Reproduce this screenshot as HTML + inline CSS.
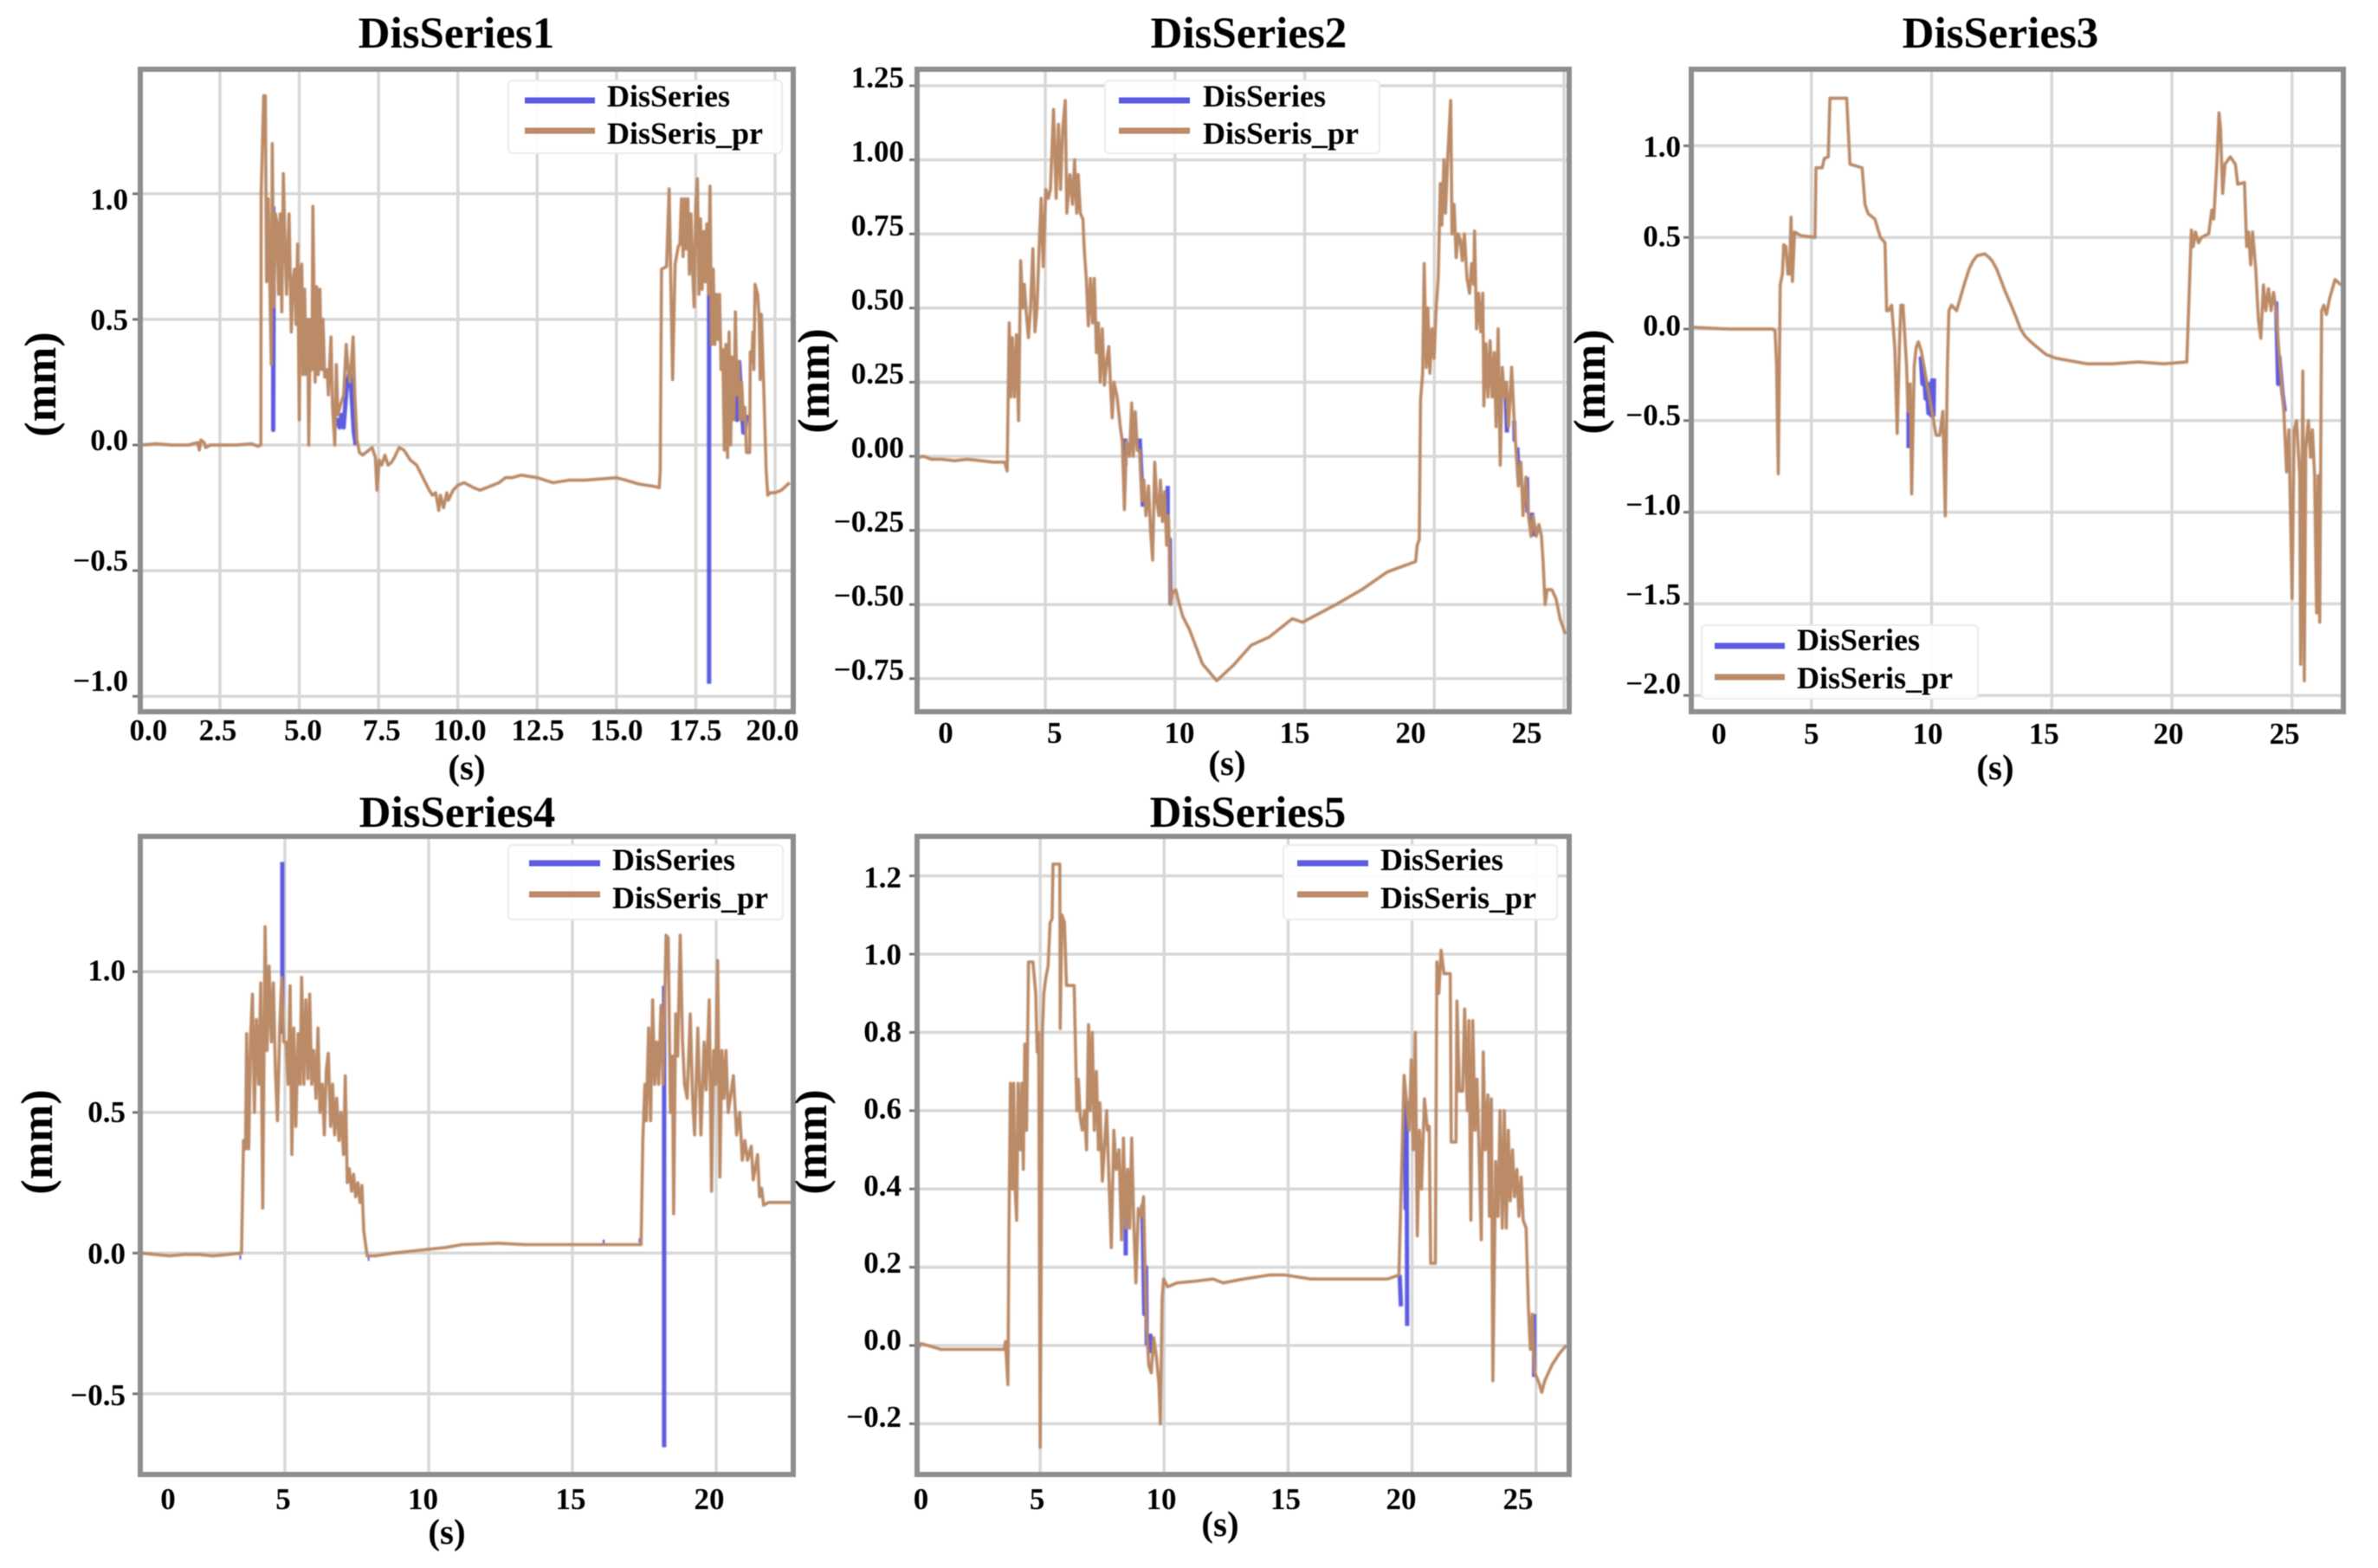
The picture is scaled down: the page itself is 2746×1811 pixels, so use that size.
<!DOCTYPE html>
<html lang="en">
<head>
<meta charset="utf-8">
<title>DisSeries charts</title>
<style>
  html, body { margin: 0; padding: 0; background: #fff; }
  svg { display: block; font-family: "Liberation Serif", "Times New Roman", serif; font-weight: bold; fill: #000; filter: blur(0.5px); }
  .title { font-size: 51px; text-anchor: middle; }
  .axis-title { font-size: 52px; text-anchor: middle; }
  .s-title { font-size: 41px; text-anchor: middle; }
  .legend-text { font-size: 36px; }
  .legend-box { fill: #fff; fill-opacity: .92; stroke: #ececec; stroke-width: 2; }
  .legend-blue { stroke: #5d5be0; stroke-width: 7; }
  .legend-brown { stroke: #bb8a66; stroke-width: 7; }
  .frame { fill: none; stroke: #8e8e8e; stroke-width: 6; }
</style>
</head>
<body>
<svg id="chart" xmlns="http://www.w3.org/2000/svg" width="2746" height="1811" viewBox="0 0 2746 1811">
  <rect width="2746" height="1811" fill="#fff"/>

  <g id="panel1"></g>
  <g id="panel2"></g>
  <g id="panel3"></g>
  <g id="panel4"></g>
  <g id="panel5"></g>

  <!-- Titles -->
  <text class="title" x="527" y="55">DisSeries1</text>
  <text class="title" x="1442" y="55">DisSeries2</text>
  <text class="title" x="2310" y="55">DisSeries3</text>
  <text class="title" x="528" y="955">DisSeries4</text>
  <text class="title" x="1441" y="955">DisSeries5</text>

  <!-- Y axis titles -->
  <text class="axis-title" transform="translate(64,444) rotate(-90)">(mm)</text>
  <text class="axis-title" transform="translate(957,440) rotate(-90)">(mm)</text>
  <text class="axis-title" transform="translate(1853,441) rotate(-90)">(mm)</text>
  <text class="axis-title" transform="translate(60,1319) rotate(-90)">(mm)</text>
  <text class="axis-title" transform="translate(954,1319) rotate(-90)">(mm)</text>

  <!-- X axis titles -->
  <text class="s-title" x="539" y="900">(s)</text>
  <text class="s-title" x="1417" y="895">(s)</text>
  <text class="s-title" x="2304" y="900">(s)</text>
  <text class="s-title" x="516" y="1783">(s)</text>
  <text class="s-title" x="1409" y="1774">(s)</text>

  <!-- Legends -->
  <g>
    <rect class="legend-box" x="587" y="93" width="316" height="84" rx="5"/>
    <line class="legend-blue" x1="606" y1="116" x2="687" y2="116"/>
    <line class="legend-brown" x1="606" y1="151" x2="687" y2="151"/>
    <text class="legend-text" x="701" y="123">DisSeries</text>
    <text class="legend-text" x="701" y="166">DisSeris_pr</text>
  </g>
  <g>
    <rect class="legend-box" x="1276" y="93" width="317" height="84" rx="5"/>
    <line class="legend-blue" x1="1292" y1="116" x2="1374" y2="116"/>
    <line class="legend-brown" x1="1292" y1="151" x2="1374" y2="151"/>
    <text class="legend-text" x="1389" y="123">DisSeries</text>
    <text class="legend-text" x="1389" y="166">DisSeris_pr</text>
  </g>
  <g>
    <rect class="legend-box" x="1965" y="722" width="319" height="85" rx="5"/>
    <line class="legend-blue" x1="1980" y1="746" x2="2061" y2="746"/>
    <line class="legend-brown" x1="1980" y1="782" x2="2061" y2="782"/>
    <text class="legend-text" x="2075" y="751">DisSeries</text>
    <text class="legend-text" x="2075" y="795">DisSeris_pr</text>
  </g>
  <g>
    <rect class="legend-box" x="587" y="976" width="317" height="86" rx="5"/>
    <line class="legend-blue" x1="611" y1="997" x2="693" y2="997"/>
    <line class="legend-brown" x1="611" y1="1033" x2="693" y2="1033"/>
    <text class="legend-text" x="707" y="1005">DisSeries</text>
    <text class="legend-text" x="707" y="1049">DisSeris_pr</text>
  </g>
  <g>
    <rect class="legend-box" x="1482" y="976" width="316" height="86" rx="5"/>
    <line class="legend-blue" x1="1498" y1="997" x2="1580" y2="997"/>
    <line class="legend-brown" x1="1498" y1="1033" x2="1580" y2="1033"/>
    <text class="legend-text" x="1594" y="1005">DisSeries</text>
    <text class="legend-text" x="1594" y="1049">DisSeris_pr</text>
  </g>
</svg>

<script>
/* ---------- Chart 1 data ---------- */
const chart1XTicks = [0, 2.5, 5, 7.5, 10, 12.5, 15, 17.5, 20];
const chart1XLabels = ["0.0", "2.5", "5.0", "7.5", "10.0", "12.5", "15.0", "17.5", "20.0"];
const chart1YTicks = [1, 0.5, 0, -0.5, -1];
const chart1YLabels = ["1.0", "0.5", "0.0", "\u22120.5", "\u22121.0"];
const chart1PredT = [0,0.5,1,1.5,1.8,1.85,1.9,2,2.05,2.2,3,3.5,3.7,3.79,3.8,3.88,3.93,3.97,4.02,4.07,4.12,4.15,4.2,4.25,4.3,4.35,4.4,4.45,4.5,4.55,4.6,4.68,4.75,4.8,4.85,4.9,4.95,5,5.04,5.08,5.12,5.17,5.22,5.27,5.3,5.35,5.4,5.43,5.5,5.55,5.6,5.65,5.7,5.75,5.8,5.88,5.92,5.96,6,6.05,6.12,6.17,6.22,6.3,6.4,6.48,6.54,6.6,6.7,6.75,6.82,6.9,7,7.1,7.2,7.3,7.4,7.45,7.52,7.6,7.7,7.8,7.9,8,8.15,8.3,8.5,8.7,8.9,9.1,9.2,9.3,9.4,9.45,9.55,9.65,9.7,9.85,10,10.2,10.5,10.7,10.9,11.1,11.3,11.5,11.7,12,12.5,13,13.5,14,14.5,15,15.3,15.7,16.2,16.35,16.38,16.42,16.58,16.66,16.72,16.77,16.85,16.95,17,17.05,17.1,17.15,17.2,17.25,17.3,17.35,17.4,17.45,17.5,17.55,17.6,17.65,17.7,17.75,17.8,17.85,17.9,17.95,18,18.05,18.1,18.15,18.2,18.25,18.3,18.35,18.4,18.45,18.5,18.55,18.6,18.65,18.7,18.75,18.8,18.85,18.9,18.95,19,19.05,19.1,19.2,19.22,19.27,19.3,19.33,19.37,19.45,19.5,19.53,19.57,19.65,19.72,19.77,19.85,20,20.2,20.46];
const chart1PredV = [0,0.005,0,0,0.01,-0.02,0.02,0.01,-0.01,0,0,0.005,-0.005,0,1,1.39,1.39,0.65,0.98,0.66,0.32,1.2,0.55,0.92,0.88,0.6,0.92,0.53,1.08,0.8,0.6,0.92,0.45,0.65,0.7,0.48,0.8,0.1,0.7,0.72,0.28,0.62,0.28,0.5,0,0.5,0.3,0.95,0.25,0.63,0.28,0.62,0.3,0.5,0.27,0.3,0.2,0.32,0.43,0.15,0,0.32,0.12,0.16,0.2,0.4,0.3,0.25,0.43,0.2,0.02,-0.03,-0.04,-0.03,-0.02,-0.01,-0.05,-0.18,-0.06,-0.08,-0.04,-0.08,-0.07,-0.05,-0.01,-0.02,-0.06,-0.08,-0.13,-0.18,-0.2,-0.19,-0.26,-0.2,-0.25,-0.19,-0.22,-0.18,-0.16,-0.15,-0.17,-0.18,-0.17,-0.16,-0.15,-0.13,-0.13,-0.12,-0.13,-0.15,-0.14,-0.14,-0.135,-0.13,-0.14,-0.155,-0.165,-0.17,-0.1,0.7,0.71,1.02,0.6,0.26,0.72,0.79,0.8,0.98,0.75,0.98,0.78,0.98,0.68,0.92,0.7,0.55,0.95,1.06,0.6,0.9,0.62,0.85,0.65,0.88,0.6,1.03,0.4,0.7,0.4,0.6,0.42,0.6,0.3,0.38,-0.02,0.4,-0.05,0.45,0,0.35,0.1,0.53,0.2,0.33,0.1,0.25,0.1,0.15,-0.03,-0.03,0.37,0.33,0.45,0.3,0.64,0.6,0.5,0.26,0.52,0.2,-0.1,-0.2,-0.19,-0.19,-0.18,-0.15];
const chart1ActualT = [4.18,4.18,4.2,null,6.12,6.2,6.27,6.33,6.4,6.5,6.6,6.72,6.78,null,17.92,17.92,null,18.76,18.8,18.87,18.95,19,19.05,19.1];
const chart1ActualV = [0.95,0.06,0.9,null,0.08,0.1,0.07,0.12,0.07,0.24,0.3,0.05,0,null,0.6,-0.95,null,0.17,0.1,0.33,0.15,0.05,0.05,0.12];

/* ---------- Chart 2 data ---------- */
const chart2XTicks = [0, 5, 10, 15, 20, 25];
const chart2XLabels = ["0", "5", "10", "15", "20", "25"];
const chart2YTicks = [1.25, 1, 0.75, 0.5, 0.25, 0, -0.25, -0.5, -0.75];
const chart2YLabels = ["1.25", "1.00", "0.75", "0.50", "0.25", "0.00", "\u22120.25", "\u22120.50", "\u22120.75"];
const chart2PredT = [0.05,0.3,0.6,1,1.5,2,2.5,3,3.44,3.53,3.61,3.67,3.73,3.81,3.89,3.97,4.05,4.13,4.19,4.27,4.35,4.43,4.52,4.6,4.68,4.76,4.84,4.92,5.02,5.12,5.2,5.32,5.42,5.51,5.59,5.67,5.77,5.83,5.95,6.05,6.13,6.21,6.27,6.35,6.45,6.5,6.58,6.66,6.74,6.82,6.89,6.97,7.05,7.12,7.2,7.28,7.38,7.45,7.51,7.58,7.65,7.77,7.89,7.97,8.05,8.13,8.25,8.33,8.39,8.47,8.55,8.64,8.72,8.8,8.88,8.98,9.06,9.14,9.22,9.3,9.38,9.44,9.52,9.6,9.68,9.75,9.83,9.91,10.03,10.17,10.3,10.56,11.06,11.61,12.25,12.94,13.63,14.52,14.92,16.21,17.2,18.19,19.28,19.34,19.42,19.47,19.55,19.61,19.69,19.75,19.83,19.91,19.99,20.07,20.15,20.23,20.29,20.37,20.43,20.51,20.63,20.68,20.76,20.84,20.92,21,21.08,21.16,21.26,21.36,21.44,21.52,21.55,21.63,21.71,21.79,21.87,21.91,21.99,22.07,22.15,22.23,22.31,22.38,22.46,22.54,22.62,22.7,22.78,22.86,22.98,23.08,23.16,23.24,23.34,23.42,23.53,23.63,23.73,23.81,23.93,24.03,24.13,24.19,24.27,24.35,24.53,24.69,24.85,25.06];
const chart2PredV = [-0.005,0,-0.01,-0.01,-0.015,-0.01,-0.015,-0.02,-0.02,-0.05,0.45,0.2,0.4,0.2,0.41,0.12,0.66,0.5,0.58,0.48,0.4,0.5,0.7,0.42,0.5,0.7,0.87,0.64,0.9,0.87,0.9,1.17,0.87,1.12,0.9,1.1,1.2,0.82,0.95,0.85,1,0.82,0.95,0.82,0.8,0.7,0.6,0.44,0.6,0.45,0.6,0.35,0.45,0.25,0.43,0.24,0.33,0.37,0.25,0.13,0.25,0.2,0.1,0.05,-0.18,0.05,0,0.18,0,0.15,0.02,0.02,-0.15,-0.08,-0.2,-0.1,-0.25,-0.35,-0.02,-0.15,-0.2,-0.08,-0.22,-0.12,-0.3,-0.2,-0.5,-0.46,-0.45,-0.5,-0.54,-0.585,-0.7,-0.757,-0.705,-0.637,-0.61,-0.548,-0.56,-0.5,-0.45,-0.39,-0.355,-0.3,-0.28,0.19,0.28,0.65,0.3,0.5,0.28,0.43,0.33,0.5,0.6,0.92,0.78,1,0.82,1,1.2,0.75,0.85,0.67,0.75,0.73,0.66,0.75,0.6,0.55,0.65,0.58,0.76,0.43,0.55,0.42,0.55,0.17,0.38,0.2,0.39,0.2,0.35,0.1,0.43,-0.03,0.3,0.2,0.25,0.1,0.3,0.12,0.01,-0.1,-0.02,-0.2,-0.07,-0.2,-0.27,-0.2,-0.27,-0.23,-0.27,-0.35,-0.5,-0.45,-0.45,-0.48,-0.55,-0.6];
const chart2ActualT = [8.09,8.09,null,8.64,8.72,8.76,null,9.72,9.72,9.8,9.83,null,22.74,22.8,null,23.08,23.1,null,23.2,23.24,null,23.57,23.6,null,23.77,23.8];
const chart2ActualV = [0.06,-0.03,null,0.06,-0.09,-0.17,null,-0.1,-0.28,-0.28,-0.5,null,0.25,0.08,null,0.12,0.05,null,0.03,-0.06,null,-0.07,-0.19,null,-0.19,-0.27];

/* ---------- Chart 3 data ---------- */
const chart3XTicks = [0, 5, 10, 15, 20, 25];
const chart3XLabels = ["0", "5", "10", "15", "20", "25"];
const chart3YTicks = [1, 0.5, 0, -0.5, -1, -1.5, -2];
const chart3YLabels = ["1.0", "0.5", "0.0", "\u22120.5", "\u22121.0", "\u22121.5", "\u22122.0"];
const chart3PredT = [0.02,1.57,3.38,3.49,3.55,3.62,3.7,3.79,3.85,3.94,4.02,4.09,4.15,4.21,4.3,4.55,5.15,5.19,5.45,5.53,5.7,5.77,6.47,6.6,7.11,7.23,7.36,7.64,7.87,8.06,8.13,8.21,8.34,8.47,8.57,8.66,8.72,8.81,8.96,9.02,9.11,9.17,9.28,9.36,9.45,9.57,10.04,10.19,10.34,10.47,10.57,10.66,10.72,10.83,11.04,11.26,11.42,11.57,11.72,11.89,12.05,12.21,12.4,12.53,12.7,12.85,13.05,13.28,13.5,13.7,13.9,14.13,14.4,14.77,15.2,15.62,16.47,17.53,18.6,19.66,20.62,20.72,20.81,20.89,20.98,21.11,21.23,21.53,21.66,21.74,21.87,21.96,22.02,22.11,22.21,22.43,22.64,22.74,23.02,23.11,23.19,23.28,23.36,23.49,23.6,23.7,23.81,23.91,24.02,24.13,24.23,24.34,24.47,24.66,24.77,24.87,25,25.09,25.19,25.32,25.36,25.45,25.51,25.57,25.68,25.77,25.85,25.94,26.02,26.09,26.15,26.23,26.32,26.43,26.57,26.79,27.04];
const chart3PredV = [0.01,0,0,-0.01,-0.2,-0.79,0.24,0.3,0.46,0.45,0.3,0.3,0.61,0.26,0.53,0.51,0.5,0.88,0.88,0.93,0.94,1.26,1.26,0.9,0.88,0.68,0.63,0.6,0.5,0.47,0.1,0.1,0.13,-0.1,-0.57,-0.1,0.13,0.13,-0.2,-0.45,-0.3,-0.9,-0.2,-0.1,-0.07,-0.12,-0.47,-0.58,-0.58,-0.45,-1.02,-0.2,0.1,0.13,0.1,0.2,0.27,0.33,0.37,0.4,0.405,0.41,0.39,0.37,0.33,0.28,0.21,0.14,0.07,0,-0.04,-0.07,-0.1,-0.14,-0.16,-0.17,-0.19,-0.19,-0.18,-0.19,-0.18,0.2,0.54,0.45,0.53,0.47,0.5,0.52,0.65,0.6,0.9,1.18,1.1,0.74,0.9,0.94,0.9,0.79,0.8,0.45,0.53,0.35,0.53,0.33,0.05,-0.05,0.24,0.1,0.22,0.1,0.2,0.1,-0.15,-0.45,-0.78,-0.55,-1.47,-0.55,-0.5,-0.8,-1.83,-0.23,-1.92,-0.65,-0.5,-0.7,-0.55,-0.8,-1.55,-0.8,-1.6,0.1,0.13,0.08,0.17,0.27,0.24];
const chart3ActualT = [9.04,9.04,null,9.55,9.62,9.68,9.75,9.8,9.87,9.92,9.98,10.03,10.08,10.1,null,24.34,24.42,24.47,24.6,24.7];
const chart3ActualV = [-0.35,-0.65,null,-0.15,-0.3,-0.22,-0.38,-0.3,-0.46,-0.3,-0.47,-0.28,-0.47,-0.27,null,0.15,-0.3,-0.15,-0.35,-0.45];

/* ---------- Chart 4 data ---------- */
const chart4XTicks = [0, 5, 10, 15, 20];
const chart4XLabels = ["0", "5", "10", "15", "20"];
const chart4YTicks = [1, 0.5, 0, -0.5];
const chart4YLabels = ["1.0", "0.5", "0.0", "\u22120.5"];
const chart4PredT = [0,0.5,1,1.5,2,2.5,3,3.49,3.56,3.63,3.67,3.74,3.81,3.87,3.94,4.01,4.09,4.16,4.23,4.31,4.38,4.45,4.53,4.6,4.67,4.74,4.82,4.89,4.96,5.04,5.11,5.18,5.24,5.31,5.38,5.46,5.53,5.58,5.66,5.73,5.8,5.86,5.93,6,6.08,6.15,6.22,6.3,6.37,6.44,6.51,6.59,6.66,6.73,6.8,6.88,6.95,7.04,7.1,7.17,7.24,7.32,7.39,7.46,7.54,7.61,7.68,7.74,7.86,7.92,8.14,8.78,9.69,10.6,11.15,12.43,13.34,14.25,15.16,16.08,16.99,17.39,17.45,17.52,17.57,17.65,17.72,17.79,17.86,17.93,18,18.08,18.15,18.26,18.33,18.41,18.48,18.52,18.59,18.66,18.75,18.83,18.9,18.99,19.1,19.18,19.25,19.36,19.47,19.58,19.65,19.76,19.84,19.91,19.98,20.05,20.13,20.2,20.27,20.34,20.42,20.49,20.6,20.71,20.82,20.91,21,21.09,21.22,21.29,21.36,21.44,21.51,21.58,21.65,21.82,22.09,22.64];
const chart4PredV = [0,-0.005,-0.01,-0.005,-0.005,-0.01,-0.005,0,0.4,0.37,0.78,0.37,0.78,0.92,0.5,0.83,0.6,0.96,0.16,1.16,0.72,1.02,0.75,0.96,0.65,0.47,0.8,0.98,0.75,0.75,0.6,0.95,0.35,0.8,0.45,0.78,0.6,0.98,0.6,0.9,0.62,0.92,0.6,0.72,0.55,0.8,0.5,0.6,0.42,0.65,0.71,0.45,0.6,0.42,0.55,0.4,0.5,0.35,0.63,0.25,0.3,0.22,0.28,0.2,0.25,0.18,0.24,0.08,-0.01,-0.01,-0.01,0,0.01,0.02,0.03,0.035,0.03,0.03,0.03,0.03,0.03,0.03,0.4,0.6,0.47,0.8,0.47,0.9,0.6,0.75,0.6,0.88,0.6,1.13,1.12,0.5,0.7,0.14,0.85,0.7,1.13,0.75,0.6,0.55,0.85,0.55,0.42,0.8,0.42,0.75,0.58,0.9,0.22,0.72,0.6,1.04,0.27,0.72,0.55,0.72,0.5,0.55,0.63,0.42,0.5,0.33,0.4,0.33,0.38,0.26,0.3,0.35,0.2,0.23,0.17,0.18,0.18,0.18];
const chart4ActualT = [4.91,4.91,null,3.42,3.48,null,7.88,7.94,null,16.05,16.12,null,17.3,17.36,null,18.19,18.19];
const chart4ActualV = [1.39,0.78,null,-0.015,-0.015,null,-0.02,-0.02,null,0.04,0.04,null,0.045,0.045,null,0.95,-0.69];

/* ---------- Chart 5 data ---------- */
const chart5XTicks = [0, 5, 10, 15, 20, 25];
const chart5XLabels = ["0", "5", "10", "15", "20", "25"];
const chart5YTicks = [1.2, 1, 0.8, 0.6, 0.4, 0.2, 0, -0.2];
const chart5YLabels = ["1.2", "1.0", "0.8", "0.6", "0.4", "0.2", "0.0", "\u22120.2"];
const chart5PredT = [0.03,0.2,1,2,3,3.55,3.6,3.7,3.74,3.8,3.87,3.93,3.99,4.05,4.11,4.2,4.26,4.32,4.38,4.45,4.53,4.71,4.82,4.88,4.94,5,5.09,5.15,5.23,5.32,5.4,5.48,5.52,5.79,5.81,5.88,5.98,6.06,6.37,6.48,6.54,6.62,6.7,6.79,6.87,6.95,7.02,7.1,7.18,7.27,7.35,7.41,7.51,7.68,7.78,7.87,7.97,8.07,8.18,8.28,8.36,8.45,8.53,8.61,8.69,8.78,8.86,8.96,9.07,9.17,9.27,9.38,9.48,9.58,9.69,9.79,9.85,9.92,9.98,10.14,10.52,11.35,11.97,12.38,13.21,14.25,14.87,15.91,16.94,17.98,19.02,19.47,19.68,19.88,19.97,20.05,20.13,20.21,20.3,20.38,20.5,20.62,20.69,20.75,20.94,21,21.08,21.17,21.29,21.54,21.58,21.77,21.81,21.91,22.04,22.12,22.23,22.29,22.37,22.45,22.54,22.62,22.7,22.79,22.87,22.95,23.06,23.12,23.2,23.26,23.37,23.47,23.55,23.64,23.72,23.8,23.88,23.96,24.05,24.13,24.23,24.31,24.4,24.48,24.6,24.69,24.77,24.85,24.94,25.02,25.14,25.23,25.35,25.64,25.95,26.22];
const chart5PredV = [-0.01,0.005,-0.01,-0.01,-0.01,-0.01,0.01,-0.1,0.3,0.67,0.4,0.67,0.4,0.32,0.67,0.5,0.67,0.45,0.77,0.55,0.98,0.98,0.9,0.75,0.8,-0.26,0.8,0.9,0.94,0.97,1.08,1.09,1.23,1.23,0.81,1.1,1.08,0.92,0.92,0.6,0.68,0.58,0.55,0.6,0.5,0.82,0.6,0.8,0.55,0.7,0.5,0.62,0.42,0.6,0.42,0.25,0.55,0.45,0.5,0.27,0.53,0.3,0.45,0.3,0.53,0.3,0.16,0.35,0.33,0.38,0.08,-0.05,-0.07,0.02,-0.03,-0.1,-0.2,0.12,0.17,0.15,0.16,0.165,0.17,0.16,0.17,0.18,0.18,0.17,0.17,0.17,0.17,0.18,0.69,0.55,0.73,0.5,0.8,0.28,0.55,0.4,0.63,0.55,0.56,0.21,0.21,0.98,0.9,1.01,0.95,0.95,0.52,0.52,0.88,0.65,0.65,0.86,0.6,0.83,0.32,0.83,0.55,0.68,0.5,0.27,0.75,0.5,0.64,0.33,0.63,-0.09,0.47,0.33,0.6,0.3,0.6,0.3,0.55,0.37,0.5,0.38,0.45,0.33,0.43,0.32,0.3,0.1,-0.01,0.08,-0.07,-0.08,-0.1,-0.12,-0.09,-0.05,-0.02,0];
const chart5ActualT = [8.45,8.45,null,9.12,9.2,9.27,9.3,null,9.44,9.44,null,19.5,19.55,null,19.7,19.74,19.78,19.8,null,24.92,24.92];
const chart5ActualV = [0.42,0.23,null,0.36,0.08,0.2,0,null,0.03,-0.02,null,0.18,0.1,null,0.65,0.35,0.62,0.05,null,0.08,-0.08];

/* ---------- Panel layout (pixel calibration, separate from the data) ---------- */
const panelLayouts = [
  { id:'panel1', left:162, right:916, top:80, bottom:822, xZero:162.4, xPer:36.63, yZero:514, yPer:290.2,
    labelOffsets:[9,-2.5,4.5,3.6,2.3,0.7,0,-0.5,-3], labelY:843, labelYZero:508, labelYPer:278, labelRight:148,
    xTicks:chart1XTicks, xLabels:chart1XLabels, yTicks:chart1YTicks, yLabels:chart1YLabels,
    predT:chart1PredT, predV:chart1PredV, actT:chart1ActualT, actV:chart1ActualV },
  { id:'panel2', left:1059, right:1812, top:80, bottom:822, xZero:1057.3, xPer:29.95, yZero:527, yPer:342.4,
    labelOffsets:[34.7,10.7,5.2,-11.6,-27.3,-43], labelY:846, labelYZero:516.5, labelYPer:342, labelRight:1044,
    xTicks:chart2XTicks, xLabels:chart2XLabels, yTicks:chart2YTicks, yLabels:chart2YLabels,
    predT:chart2PredT, predV:chart2PredV, actT:chart2ActualT, actV:chart2ActualV },
  { id:'panel3', left:1953, right:2706, top:80, bottom:822, xZero:1953, xPer:27.75, yZero:380, yPer:211.6,
    labelOffsets:[32,0,-4.5,-9,-4,-8.75], labelY:847, labelYZero:375.7, labelYPer:206.7, labelRight:1941,
    xTicks:chart3XTicks, xLabels:chart3XLabels, yTicks:chart3YTicks, yLabels:chart3YLabels,
    predT:chart3PredT, predV:chart3PredV, actT:chart3ActualT, actV:chart3ActualV },
  { id:'panel4', left:162, right:916, top:966, bottom:1703, xZero:163, xPer:33.2, yZero:1447.3, yPer:325,
    labelOffsets:[31,-2,-6.5,-2,-8], labelY:1731, labelYZero:1447.5, labelYPer:327, labelRight:145,
    xTicks:chart4XTicks, xLabels:chart4XLabels, yTicks:chart4YTicks, yLabels:chart4YLabels,
    predT:chart4PredT, predV:chart4PredV, actT:chart4ActualT, actV:chart4ActualV },
  { id:'panel5', left:1059, right:1812, top:966, bottom:1703, xZero:1058, xPer:28.63, yZero:1554, yPer:452,
    labelOffsets:[5.5,-3.5,-3.3,-3,-12.6,-20.8], labelY:1731, labelYZero:1547, labelYPer:445, labelRight:1041,
    xTicks:chart5XTicks, xLabels:chart5XLabels, yTicks:chart5YTicks, yLabels:chart5YLabels,
    predT:chart5PredT, predV:chart5PredV, actT:chart5ActualT, actV:chart5ActualV }
];

const SVG_NS = 'http://www.w3.org/2000/svg';

function make(tag, attrs) {
  const el = document.createElementNS(SVG_NS, tag);
  for (const k in attrs) el.setAttribute(k, attrs[k]);
  return el;
}
function xAxis(p, t) { return p.xZero + p.xPer * t; }
function yAxis(p, v) { return p.yZero - p.yPer * v; }
function yLabelAxis(p, v) { return p.labelYZero - p.labelYPer * v; }

function linePath(p, ts, vs) {
  let d = '';
  let pen = false;
  const n = Math.min(ts.length, vs.length);
  for (let i = 0; i < n; i++) {
    if (ts[i] === null || vs[i] === null) { pen = false; continue; }
    d += (pen ? 'L' : 'M') + xAxis(p, ts[i]).toFixed(1) + ' ' + yAxis(p, vs[i]).toFixed(1);
    pen = true;
  }
  return d;
}

panelLayouts.forEach(function (p, idx) {
  const n = idx + 1;
  const g = document.getElementById(p.id);

  const bg = make('rect', { x:p.left, y:p.top, width:p.right-p.left, height:p.bottom-p.top, fill:'#fff' });
  
  
  g.appendChild(bg);

  p.xTicks.forEach(function (t, i) {
    const gx = xAxis(p, t);
    if (gx > p.left + 6 && gx < p.right - 2) {
      const gl = make('line', { x1:gx, x2:gx, y1:p.top, y2:p.bottom, stroke:'#d8d8d8', 'stroke-width':3.5 });
      
      
      g.appendChild(gl);
    }
    const lab = make('text', { x:gx + p.labelOffsets[i], y:p.labelY + 12, 'text-anchor':'middle', 'font-size':35 });
    lab.textContent = p.xLabels[i];
    
    
    g.appendChild(lab);
  });

  p.yTicks.forEach(function (v, i) {
    const gy = yAxis(p, v);
    const gl = make('line', { x1:p.left, x2:p.right, y1:gy, y2:gy, stroke:'#d8d8d8', 'stroke-width':3.5 });
    
    
    g.appendChild(gl);
    const tick = make('line', { x1:p.left-9, x2:p.left, y1:gy, y2:gy, stroke:'#777', 'stroke-width':3 });
    
    
    g.appendChild(tick);
    const lab = make('text', { x:p.labelRight, y:yLabelAxis(p, v) + 12, 'text-anchor':'end', 'font-size':35 });
    lab.textContent = p.yLabels[i];
    
    
    g.appendChild(lab);
  });

  const clipId = 'clip' + n;
  const defs = make('defs', {});
  const clip = make('clipPath', { id:clipId });
  clip.appendChild(make('rect', { x:p.left, y:p.top, width:p.right-p.left, height:p.bottom-p.top }));
  defs.appendChild(clip);
  g.appendChild(defs);

  const lines = make('g', { 'clip-path':'url(#' + clipId + ')', style:'filter:blur(0.5px)' });
  
  
  g.appendChild(lines);

  const blue = make('path', { d:linePath(p, p.actT, p.actV), fill:'none', stroke:'#5d5be0', 'stroke-width':5, 'stroke-linejoin':'round' });
  
  
  lines.appendChild(blue);

  const brown = make('path', { d:linePath(p, p.predT, p.predV), fill:'none', stroke:'#bb8a66', 'stroke-width':3.6, 'stroke-linejoin':'round' });
  
  
  lines.appendChild(brown);

  const frame = make('rect', { x:p.left, y:p.top, width:p.right-p.left, height:p.bottom-p.top });
  frame.setAttribute('class', 'frame');
  
  
  g.appendChild(frame);
});
</script>
</body>
</html>
